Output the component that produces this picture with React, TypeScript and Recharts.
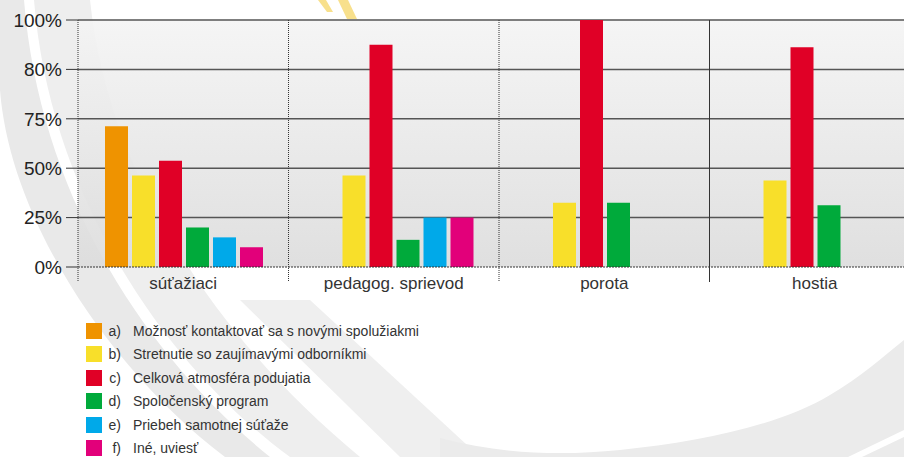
import { BarChart, Bar, XAxis, YAxis, CartesianGrid, Legend } from 'recharts'

// skupiny respondentov
const categories = ['súťažiaci', 'pedagog. sprievod', 'porota', 'hostia']

// hodnoty v % podľa skupín (null = nezobrazené)
const seriesA = [57, null, null, null]
const seriesB = [37, 37, 26, 35]
const seriesC = [43, 90, 100, 89]
const seriesD = [16, 11, 26, 25]
const seriesE = [12, 20, null, null]
const seriesF = [8, 20, null, null]

const seriesNames = [
  'Možnosť kontaktovať sa s novými spolužiakmi',
  'Stretnutie so zaujímavými odborníkmi',
  'Celková atmosféra podujatia',
  'Spoločenský program',
  'Priebeh samotnej súťaže',
  'Iné, uviesť',
]
const seriesLetters = ['a)', 'b)', 'c)', 'd)', 'e)', 'f)']
const seriesColors = ['#ef9300', '#f8df2a', '#e00026', '#00aa3b', '#00a9e9', '#e2007a']

const yTicks = [0, 20, 40, 60, 80, 100]
const yTickLabels = ['0%', '25%', '50%', '75%', '80%', '100%']

const allSeries = [seriesA, seriesB, seriesC, seriesD, seriesE, seriesF]
const keys = ['a', 'b', 'c', 'd', 'e', 'f']

const chartData = categories.map((name, i) => {
  const row: Record<string, string | number | null> = { name }
  allSeries.forEach((s, j) => {
    row[keys[j]] = s[i]
  })
  return row
})

const CHART_W = 930
const CHART_H = 457
const MARGIN = { top: 20, right: 10, left: 0, bottom: 157 }
const Y_W = 78
const X_H = 33
const PLOT_W = CHART_W - MARGIN.left - MARGIN.right - Y_W
const PLOT_H = CHART_H - MARGIN.top - MARGIN.bottom - X_H
const BAND = PLOT_W / categories.length

function CategoryTick(props: any) {
  const { x, y, payload, index } = props
  const lx = x - BAND / 2
  return (
    <g>
      <line
        x1={lx}
        x2={lx}
        y1={y - PLOT_H}
        y2={y + 15}
        stroke="#333"
        strokeWidth={1}
        strokeDasharray={index === 3 ? undefined : '1 1'}
      />
      <text x={x} y={y + 22} textAnchor="middle" fontSize={17} fill="#333">
        {payload.value}
      </text>
    </g>
  )
}

function LegendList() {
  return (
    <div style={{ fontSize: 14, color: '#333' }}>
      {seriesNames.map((n, i) => (
        <div key={n} style={{ display: 'flex', alignItems: 'center', height: 23.5 }}>
          <span style={{ width: 16, height: 16, background: seriesColors[i], display: 'inline-block' }} />
          <span style={{ width: 19, textAlign: 'right' }}>{seriesLetters[i]}</span>
          <span style={{ marginLeft: 12 }}>{n}</span>
        </div>
      ))}
    </div>
  )
}

export default function App() {
  return (
    <div
      style={{
        position: 'fixed',
        left: 0,
        top: 0,
        width: 904,
        height: 457,
        overflow: 'hidden',
        background: '#fff',
        fontFamily: '"Liberation Sans", Arial, sans-serif',
      }}
    >
      {/* pozadie - sivé oblúky */}
      <svg width={904} height={457} style={{ position: 'absolute', left: 0, top: 0 }}>
        <path d="M0,0 L24,0 C40,200 150,360 270,457 L225,457 C110,370 10,220 0,90 Z" fill="#e9e9e9" />
        <path d="M34,0 L90,0 C110,190 230,350 360,457 L290,457 C170,370 50,200 34,0 Z" fill="#eeeeee" />
        <path d="M240,300 L310,300 L480,457 L400,457 Z" fill="#efefef" />
        <path
          d="M440,438 C500,454 560,456 620,450 C700,442 780,425 830,395 C860,378 885,355 904,340 L904,457 L440,457 Z"
          fill="#ebebeb"
        />
        <path d="M848,457 L904,430 L904,437 L862,457 Z" fill="#fff" />
        <path d="M318,0 L326,0 L333,12 L327,12 Z" fill="#f8e08c" />
        <path d="M338,0 L348,0 L357,19 L347,19 Z" fill="#f8e08c" />
      </svg>
      <div style={{ position: 'absolute', left: 0, top: 0 }}>
        <BarChart
          width={CHART_W}
          height={CHART_H}
          data={chartData}
          margin={MARGIN}
          barCategoryGap={27}
          barGap={4}
        >
          <defs>
            <linearGradient id="plotBg" x1="0" y1="0" x2="0" y2="1">
              <stop offset="0%" stopColor="#f4f4f4" stopOpacity={0.9} />
              <stop offset="100%" stopColor="#dcdcdc" stopOpacity={0.9} />
            </linearGradient>
          </defs>
          <CartesianGrid
            vertical={false}
            horizontalValues={[20, 40, 60, 80, 100]}
            stroke="#555"
            strokeWidth={1.5}
            fill="url(#plotBg)"
            fillOpacity={1}
          />
          <XAxis
            dataKey="name"
            height={X_H}
            tickLine={false}
            tickSize={0}
            tickMargin={0}
            interval={0}
            axisLine={{ stroke: '#333', strokeDasharray: '2 1' }}
            tick={<CategoryTick />}
          />
          <YAxis
            width={Y_W}
            domain={[0, 100]}
            ticks={yTicks}
            interval={0}
            axisLine={false}
            tickSize={12}
            tickMargin={4}
            tickLine={{ stroke: '#333' }}
            tickFormatter={(v: number) => yTickLabels[yTicks.indexOf(v)]}
            tick={{ fontSize: 19, fill: '#222' }}
          />
          {keys.map((k, i) => (
            <Bar key={k} dataKey={k} name={seriesNames[i]} fill={seriesColors[i]} isAnimationActive={false} />
          ))}
          <Legend
            layout="vertical"
            align="center"
            verticalAlign="middle"
            wrapperStyle={{ top: 319, left: 86, width: 500 }}
            content={<LegendList />}
          />
        </BarChart>
      </div>
    </div>
  )
}
